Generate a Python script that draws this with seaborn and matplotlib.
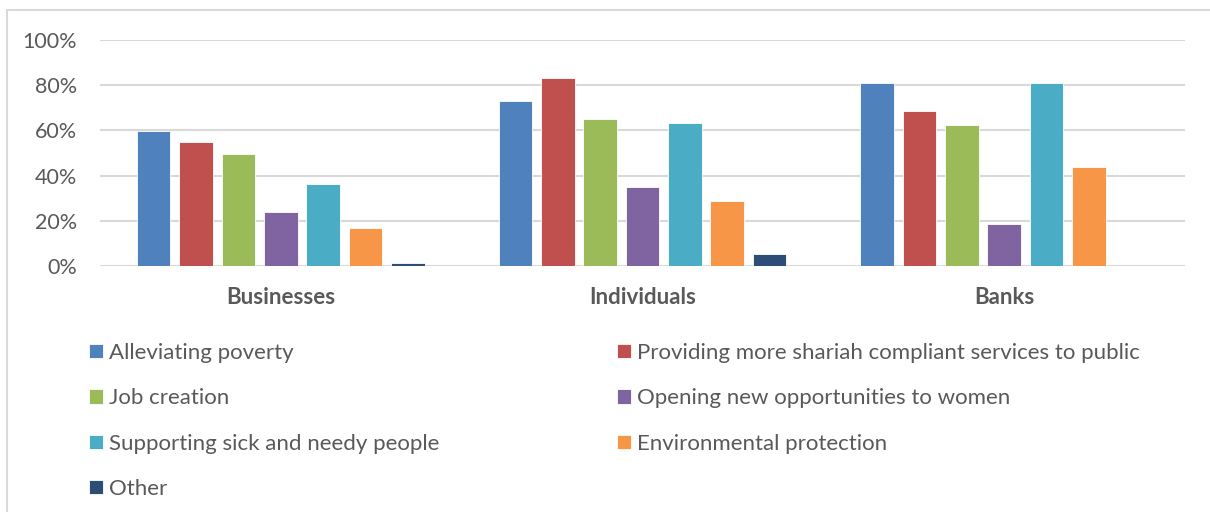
import matplotlib
matplotlib.use("Agg")
import matplotlib.pyplot as plt
from matplotlib.patches import Rectangle
import seaborn as sns
import pandas as pd

# Respondent groups and the motives they cited (share of respondents)
groups = ["Businesses", "Individuals", "Banks"]
motives = [
    "Alleviating poverty",
    "Providing more shariah compliant services to public",
    "Job creation",
    "Opening new opportunities to women",
    "Supporting sick and needy people",
    "Environmental protection",
    "Other",
]
businesses = [0.596, 0.550, 0.497, 0.241, 0.362, 0.166, 0.012]
individuals = [0.731, 0.831, 0.650, 0.350, 0.632, 0.287, 0.051]
banks = [0.810, 0.687, 0.622, 0.187, 0.810, 0.437, 0.0]
yticks = [0, 0.2, 0.4, 0.6, 0.8, 1.0]
ytick_labels = ["0%", "20%", "40%", "60%", "80%", "100%"]

colors = ["#4F81BD", "#C0504D", "#9BBB59", "#8064A2", "#4BACC6", "#F79646", "#2C4D75"]
text_color = "#595959"
grid_color = "#D9D9D9"

rows = []
for g, vals in zip(groups, [businesses, individuals, banks]):
    for m, v in zip(motives, vals):
        rows.append({"group": g, "motive": m, "share": v})
df = pd.DataFrame(rows)

sns.set_theme(style="white")
plt.rcParams["font.family"] = ["Lato", "DejaVu Sans"]

W, H = 1210, 512
fig = plt.figure(figsize=(W / 100, H / 100), dpi=100)
ax = fig.add_axes([100 / W, 1 - 266 / H, (1185 - 100) / W, (266 - 40) / H])

sns.barplot(
    data=df, x="group", y="share", hue="motive",
    order=groups, hue_order=motives, palette=colors,
    width=0.82, gap=0.21, saturation=1, errorbar=None,
    edgecolor="white", linewidth=0.6, ax=ax, zorder=3,
)

ax.set_ylim(0, 1.0)
ax.set_xlim(-0.5, 2.5)
ax.set_yticks(yticks)
ax.set_yticklabels(ytick_labels)
ax.yaxis.grid(True, color=grid_color, linewidth=1.5, zorder=0)
ax.set_axisbelow(True)
for s in ax.spines.values():
    s.set_visible(False)
ax.set_xlabel("")
ax.set_ylabel("")
ax.tick_params(axis="y", length=0, pad=16.5, labelsize=15.5, labelcolor=text_color)
ax.tick_params(axis="x", length=0, pad=15, labelsize=16, labelcolor=text_color)
for lbl in ax.get_xticklabels():
    lbl.set_fontweight("bold")

# Legend: two columns, read row by row
handles, labels = ax.get_legend_handles_labels()
ax.get_legend().remove()
order = [0, 2, 4, 6, 1, 3, 5]
fig.legend(
    [handles[i] for i in order], [labels[i] for i in order],
    ncol=2, loc="upper left", bbox_to_anchor=(89 / W, 1 - 343 / H),
    frameon=False, fontsize=16, labelcolor=text_color,
    handlelength=0.62, handleheight=0.62, handletextpad=0.28,
    labelspacing=1.14, columnspacing=8.0, borderpad=0, borderaxespad=0,
)

# Chart frame (left and top edges)
fig.patches.append(Rectangle((7 / W, -0.1), 1.2, 1 - 10 / H + 0.1,
                             transform=fig.transFigure, fill=False,
                             edgecolor=grid_color, linewidth=1.5))

fig.savefig("out.png", dpi=100, facecolor="white")
